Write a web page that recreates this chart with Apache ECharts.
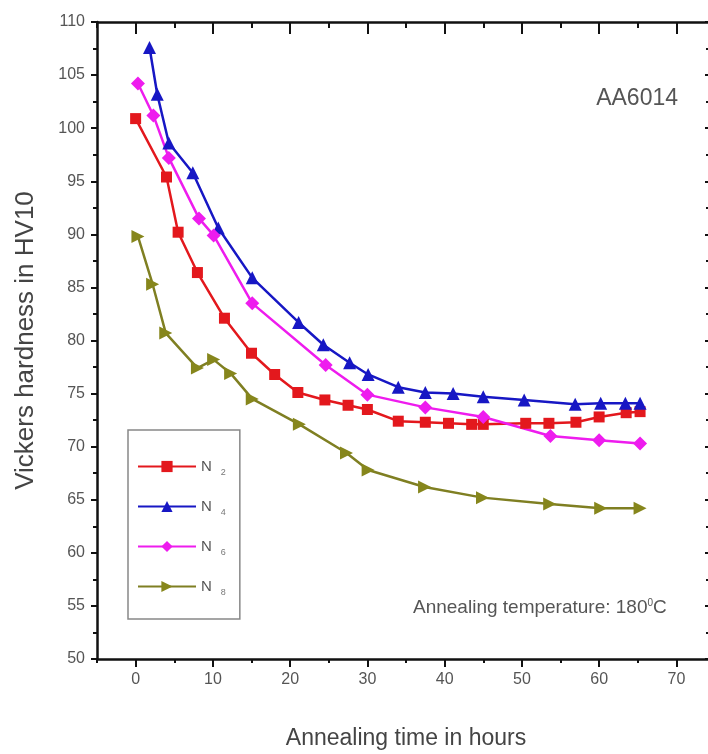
<!DOCTYPE html>
<html>
<head>
<meta charset="utf-8">
<script src="https://cdn.jsdelivr.net/npm/echarts@6/dist/echarts.min.js"></script>
<style>
  html, body { margin: 0; padding: 0; background: #fff; }
  #chart { width: 708px; height: 754px; }
</style>
</head>
<body>
<div id="chart"></div>
<script>
// annealing time (h) and hardness (HV10) per nitrogen level
const n2Time = [0, 4, 5.5, 8, 11.5, 15, 18, 21, 24.5, 27.5, 30, 34, 37.5, 40.5, 43.5, 45, 50.5, 53.5, 57, 60, 63.5, 65.3];
const n2Hv = [100.9, 95.4, 90.2, 86.4, 82.1, 78.8, 76.8, 75.1, 74.4, 73.9, 73.5, 72.4, 72.3, 72.2, 72.1, 72.1, 72.2, 72.2, 72.3, 72.8, 73.2, 73.3];

const n4Time = [1.8, 2.8, 4.3, 7.4, 10.7, 15.1, 21.1, 24.3, 27.7, 30.1, 34, 37.5, 41.1, 45, 50.3, 56.9, 60.2, 63.4, 65.3];
const n4Hv = [107.6, 103.2, 98.6, 95.8, 90.6, 85.9, 81.7, 79.6, 77.9, 76.8, 75.6, 75.1, 75.0, 74.7, 74.4, 74.0, 74.1, 74.1, 74.1];

const n6Time = [0.3, 2.3, 4.3, 8.2, 10.1, 15.1, 24.6, 30, 37.5, 45, 53.7, 60, 65.3];
const n6Hv = [104.2, 101.2, 97.2, 91.5, 89.9, 83.5, 77.7, 74.9, 73.7, 72.8, 71.0, 70.6, 70.3];

const n8Time = [0.3, 2.2, 3.9, 8.0, 10.1, 12.3, 15.1, 21.2, 27.3, 30.1, 37.4, 44.9, 53.6, 60.2, 65.3];
const n8Hv = [89.8, 85.3, 80.7, 77.4, 78.2, 76.9, 74.5, 72.1, 69.4, 67.8, 66.2, 65.2, 64.6, 64.2, 64.2];

const xLabels = [0, 10, 20, 30, 40, 50, 60, 70];
const seriesNames = ['N2', 'N4', 'N6', 'N8'];

function pairs(t, v) {
    return t.map((x, i) => [x, v[i]]);
}

const chart = echarts.init(document.getElementById('chart'));
const font = 'Liberation Sans, Arial, sans-serif';
const lbl = '#555';

// extra x axes only carry ticks (long ones at the tens)
function xAxisBase(pos, inside, len, showLine, ticks) {
    return {
        type: 'value',
        position: pos,
        min: -5,
        max: 75,
        interval: 5,
        axisLine: { show: showLine, onZero: false, lineStyle: { color: '#111', width: 2.5 } },
        axisTick: { show: true, inside: inside, length: len, customValues: ticks, lineStyle: { color: '#111', width: 2 } },
        axisLabel: { show: false },
        splitLine: { show: false }
    };
}

const option = {
    backgroundColor: '#fff',
    animation: false,
    // right edge (x=75) sits just outside the picture, as in the original crop
    grid: { left: 97, width: 618, top: 22, bottom: 95, outerBoundsMode: 'none' },
    legend: {
        orient: 'vertical',
        left: 128,
        top: 430,
        padding: [29, 14, 22, 9],
        itemWidth: 58,
        itemHeight: 14,
        itemGap: 22,
        borderColor: '#888',
        borderWidth: 1.5,
        data: seriesNames,
        formatter: function (name) {
            return '{n|N}{s|' + name.slice(1) + '}';
        },
        textStyle: {
            rich: {
                n: { fontFamily: font, fontSize: 15, color: '#555' },
                s: { fontFamily: font, fontSize: 9, color: '#777', padding: [12, 0, 0, 9] }
            }
        }
    },
    xAxis: [
        {
            type: 'value',
            position: 'bottom',
            min: -5,
            max: 75,
            interval: 5,
            name: 'Annealing time in hours',
            nameLocation: 'middle',
            nameGap: 68,
            nameTextStyle: { fontFamily: font, fontSize: 23, color: '#444' },
            axisLine: { show: true, onZero: false, lineStyle: { color: '#111', width: 2.5 } },
            axisTick: { show: true, length: 4, lineStyle: { color: '#111', width: 2 } },
            axisLabel: { customValues: xLabels, margin: 13, fontFamily: font, fontSize: 16, color: lbl },
            splitLine: { show: false }
        },
        xAxisBase('bottom', false, 8, false, xLabels),
        xAxisBase('top', true, 6, true, undefined),
        xAxisBase('top', true, 12, false, xLabels)
    ],
    yAxis: [
        {
            type: 'value',
            position: 'left',
            min: 50,
            max: 110,
            interval: 5,
            name: 'Vickers hardness in HV10',
            nameLocation: 'middle',
            nameGap: 58,
            nameTextStyle: { fontFamily: font, fontSize: 26, color: '#444' },
            axisLine: { show: true, onZero: false, lineStyle: { color: '#111', width: 2.5 } },
            axisTick: { show: true, length: 6, lineStyle: { color: '#111', width: 2 } },
            minorTick: { show: true, splitNumber: 2, length: 4, lineStyle: { color: '#111', width: 2 } },
            axisLabel: { margin: 12, fontFamily: font, fontSize: 16, color: lbl },
            splitLine: { show: false }
        },
        {
            type: 'value',
            position: 'right',
            min: 50,
            max: 110,
            interval: 5,
            axisLine: { show: true, onZero: false, lineStyle: { color: '#111', width: 2.5 } },
            axisTick: { show: true, inside: true, length: 10, lineStyle: { color: '#111', width: 2 } },
            minorTick: { show: true, splitNumber: 2, length: 9, lineStyle: { color: '#111', width: 2 } },
            axisLabel: { show: false },
            splitLine: { show: false }
        }
    ],
    graphic: [
        {
            type: 'text',
            right: 30,
            top: 87,
            style: { text: 'AA6014', fontFamily: font, fontSize: 23, fill: '#555' }
        },
        {
            type: 'text',
            left: 413,
            top: 598,
            style: {
                text: 'Annealing temperature: 180{sup|0}C',
                fontFamily: font,
                fontSize: 19,
                fill: '#555',
                rich: {
                    sup: { fontFamily: font, fontSize: 10, fill: '#555', padding: [0, 0, 10, 0] }
                }
            }
        }
    ],
    series: [
        {
            name: 'N2',
            type: 'line',
            data: pairs(n2Time, n2Hv),
            symbol: 'rect',
            symbolSize: 11,
            lineStyle: { color: '#e3181d', width: 2.5 },
            itemStyle: { color: '#e3181d' }
        },
        {
            name: 'N4',
            type: 'line',
            data: pairs(n4Time, n4Hv),
            symbol: 'triangle',
            symbolSize: 13,
            lineStyle: { color: '#1717c4', width: 2.5 },
            itemStyle: { color: '#1717c4' }
        },
        {
            name: 'N6',
            type: 'line',
            data: pairs(n6Time, n6Hv),
            symbol: 'diamond',
            symbolSize: 14,
            lineStyle: { color: '#ee1cee', width: 2.5 },
            itemStyle: { color: '#ee1cee' }
        },
        {
            name: 'N8',
            type: 'line',
            data: pairs(n8Time, n8Hv),
            symbol: 'triangle',
            symbolRotate: -90,
            symbolSize: 13,
            lineStyle: { color: '#7f7f22', width: 2.5 },
            itemStyle: { color: '#86861c' }
        }
    ]
};

chart.setOption(option);
</script>
</body>
</html>
